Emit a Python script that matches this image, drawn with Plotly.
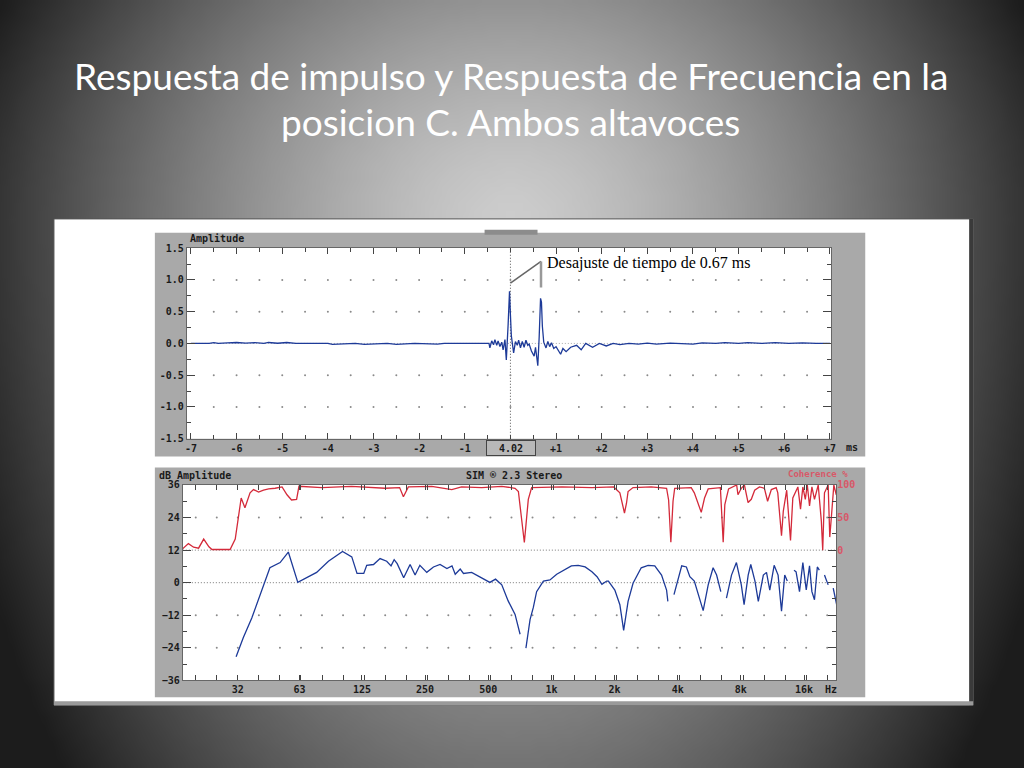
import base64, struct, zlib
import numpy as np
import plotly.graph_objects as go

W, H = 1024, 768
S = 1.006  # small compensation for the capture scale
def px(X): return X * S / W
def py(Y): return 1 - Y * S / H

# ---------------- data ----------------
title_line1 = "Respuesta de impulso y Respuesta de Frecuencia en la"
title_line2 = "posicion C. Ambos altavoces"

# impulse response (time in ms, amplitude)
imp_t = [-7.0, -6.6, -6.5, -6.4, -6.2, -6.0, -5.8, -5.6, -5.4, -5.3, -5.1, -4.9, -4.7, -4.0,
         -3.9, -3.7, -3.4, -3.2, -2.9, -2.7, -2.5, -2.3, -2.1, -1.6, -1.45, -0.47,
         -0.45, -0.41, -0.37, -0.34, -0.30, -0.27, -0.23, -0.19, -0.16, -0.12, -0.09, -0.05,
         -0.02, 0.0, 0.02, 0.07, 0.11, 0.15, 0.18, 0.22, 0.26, 0.30, 0.34, 0.38, 0.41, 0.46,
         0.52, 0.55, 0.60, 0.63, 0.66, 0.68, 0.70, 0.73, 0.78, 0.82, 0.86, 0.90, 0.95, 1.00,
         1.05, 1.10, 1.15, 1.22, 1.32, 1.45, 1.55, 1.65, 1.80, 1.95, 2.10, 2.25, 2.40, 2.60,
         2.80, 3.0, 3.2, 3.5, 4.0, 4.2, 4.5, 4.7, 5.0, 5.2, 5.5, 5.8, 6.1, 6.4, 6.7, 7.0]
imp_a = [0, 0, 0.012, 0, 0.01, 0.015, 0.005, 0.012, 0.0, 0.015, 0.003, 0.015, 0.0, 0.0,
         -0.015, -0.005, 0, -0.015, -0.01, 0, -0.015, -0.01, 0, -0.012, 0, 0,
         -0.07, 0.04, -0.02, 0.06, -0.03, 0.04, -0.05, 0.02, -0.10, 0.06, -0.26, 0.30,
         0.82, 0.45, 0.12, -0.15, 0.03, -0.03, 0.05, -0.07, 0.03, -0.06, 0.05, -0.03, -0.01, -0.12,
         -0.20, -0.06, -0.35, 0.10, 0.71, 0.65, 0.27, 0.02, -0.07, 0.03, -0.05, 0.01, -0.08, -0.05,
         -0.12, -0.17, -0.08, -0.13, -0.06, -0.03, -0.10, 0.0, -0.06, 0.0, -0.04, 0.0, -0.02, 0.0,
         -0.01, 0.005, -0.01, 0.005, -0.01, 0.01, 0.0, 0.012, 0.0, 0.012, 0, 0.012, 0, 0.01, 0, 0]

# frequency response magnitude (Hz, dB); None = gap in the trace
mag_f = [31.4, 34.0, 37.3, 40.4, 42.8, 45.5, 50.9, 55.7, 61.8, 66.8, 76, 86.5, 101, 111.8,
         118.4, 127.5, 131.7, 141.9, 152.5, 164, 172, 178, 184, 197.6, 212, 224, 236, 254.6,
         274, 294.6, 317.6, 335.8, 348, 367.6, 381, 416.6, 456, 509, 541.6, 580, 622, 671, 709,
         None,
         756, 770, 791, 820, 850, 916, 984, 1060, 1140, 1245, 1342, 1448, 1560, 1650, 1741,
         1835, 1870, 2006, 2120, 2210, 2320, 2450, 2680, 2890, 3110, 3350, 3540, 3590,
         None,
         3840, 4180, 4400, 4570, 4800, 5290, 5590, 5900, 6130, 6420,
         None,
         6830, 7220, 7620, 8040, 8290, 8670, 8920, 9340, 9690, 10240, 10600, 10990, 11530,
         12040, 12500, 12950, 13320,
         None,
         14340, 14670, 15230, 15800, 16400, 17000, 17450, 17950, 18520, 18930,
         None,
         20030, 20860,
         None,
         22050, 22400, 22900]
mag_db = [-27.3, -20.2, -13.0, -5.7, -0.2, 5.5, 7.4, 11.3, 0.1, 1.6, 3.8, 7.9, 11.5, 9.5,
          3.4, 3.4, 6.4, 6.7, 8.9, 7.9, 6.2, 8.5, 7.0, 1.8, 6.7, 2.8, 6.4, 3.8,
          5.8, 6.7, 5.2, 6.2, 3.1, 5.0, 3.4, 3.8, 2.2, 0.1, 1.3, -0.8, -6.7, -11.7, -19.0,
          None,
          -24.1, -20.2, -13.6, -9.1, -3.3, 0.6, 1.0, 3.1, 4.6, 6.2, 6.4, 5.8, 4.0, 2.2, -0.6,
          0.6, 0.6, -2.7, -8.1, -17.6, -6.9, -0.2, 5.5, 6.4, 6.2, 2.8, -2.7, -6.9,
          None,
          -4.4, 6.2, 5.8, 2.2, 0.6, -10.3, -0.8, 5.5, 2.8, -3.3,
          None,
          -5.7, 2.8, 7.4, -0.8, -8.1, 2.8, 6.7, 0.6, -6.9, 2.8, 3.8, -2.7, 6.4,
          2.8, -10.5, 2.8, 0.6,
          None,
          4.6, 4.0, -3.3, 7.4, -2.7, 6.2, -3.3, -6.3, 5.8, 4.6,
          None,
          2.8, -0.8,
          None,
          -2.0, -5.0, -8.1]

# coherence (Hz, %)
coh_f = [17.3, 18.6, 19.7, 20.8, 22.0, 23.3, 24.1, 29.4, 31.1, 32.2, 33.2, 34.6, 36.6, 38.0,
         40.2, 42.4, 44.9, 48.2, 52.0, 54.9, 57.7, 61.0, 62.6, 80.4, 111.5, 161, 189, 197, 208,
         269, 335, 373, 465, 580, 671, 696, 727, 743, 757, 776, 805, 1123, 1557, 1980, 2120,
         2160, 2230, 2280, 2320, 2450, 2990, 3540, 3620, 3710, 3800, 3870, 4640, 4800, 5000,
         5180, 5370, 5590, 6390, 6520, 6590, 6710, 6990, 7640, 7750, 8040, 8320, 8660, 8970,
         9310, 9810, 10360, 10730, 11180, 11790, 12000, 12500, 12750, 13230, 13800, 14150,
         14960, 15400, 15800, 16230, 16590, 17000, 17450, 17950, 18700, 19350, 19650, 20030,
         20860, 21230, 21600, 22200, 22800]
coh_pct = [1, 10, 4.5, 3, 17, 5, 1, 1, 17, 47.5, 80, 65, 88, 93,
           89, 92, 94, 95, 97, 85, 77, 78, 98, 96, 98, 95, 96, 82, 97,
           98, 93, 97, 96, 98, 95, 90, 42, 11.7, 40, 78, 96, 97, 96, 97, 88,
           77, 57, 72, 90, 96, 97, 95, 77, 12, 75, 95, 96, 88, 72,
           58, 80, 94, 96, 52, 12, 70, 94, 100, 85, 95, 100, 73, 78,
           92, 97, 95, 75, 93, 96, 88, 22, 60, 92, 15, 80,
           97, 63, 97, 78, 100, 68, 97, 78, 100, 45, 0, 88,
           100, 20, 50, 100, 85]

imp_xticks = [-7, -6, -5, -4, -3, -2, -1, 1, 2, 3, 4, 5, 6, 7]
imp_xlabels = ["-7", "-6", "-5", "-4", "-3", "-2", "-1", "+1", "+2", "+3", "+4", "+5", "+6", "+7"]
imp_yticks = [-1.5, -1.0, -0.5, 0.0, 0.5, 1.0, 1.5]
imp_ylabels = ["-1.5", "-1.0", "-0.5", "0.0", "0.5", "1.0", "1.5"]
freq_xticks = [32, 63, 125, 250, 500, 1000, 2000, 4000, 8000, 16000]
freq_xlabels = ["32", "63", "125", "250", "500", "1k", "2k", "4k", "8k", "16k"]
db_yticks = [-36, -24, -12, 0, 12, 24, 36]
coh_ticks = [0, 50, 100]

# ---------------- background gradient image ----------------
gw, gh = 128, 96
xs = (np.arange(gw) + 0.5) * W / gw
ys = (np.arange(gh) + 0.5) * H / gh
XX, YY = np.meshgrid(xs, ys)
cx, cy = 512, 220
ry = np.where(YY < cy, 480.0, 880.0)
r = np.sqrt(((XX - cx) / 560.0) ** 2 + ((YY - cy) / ry) ** 2)
bright = np.clip(205 - 175 * r ** 1.4, 28, 255).astype(np.uint8)
raw = b"".join(b"\x00" + row.tobytes() for row in bright)

def chunk(tag, data):
    return struct.pack(">I", len(data)) + tag + data + struct.pack(">I", zlib.crc32(tag + data) & 0xffffffff)

png = (b"\x89PNG\r\n\x1a\n" + chunk(b"IHDR", struct.pack(">IIBBBBB", gw, gh, 8, 0, 0, 0, 0))
       + chunk(b"IDAT", zlib.compress(raw)) + chunk(b"IEND", b""))
bg_uri = "data:image/png;base64," + base64.b64encode(png).decode()

# ---------------- figure ----------------
BLUE = "#1d3a98"
RED = "#d42a3a"
MONO = dict(family="DejaVu Sans Mono", size=10, color="#1a1a1a", weight="bold")

fig = go.Figure()

# grid dots (top)
gx = np.arange(-6.5, 7.0, 0.5)
gy = np.array([-1.0, -0.5, 0.5, 1.0])
GX, GY = np.meshgrid(gx, gy)
fig.add_trace(go.Scatter(x=GX.ravel(), y=GY.ravel(), mode="markers",
                         marker=dict(size=2, color="#8a8a8a"), xaxis="x", yaxis="y",
                         hoverinfo="skip", showlegend=False))
# grid dots (bottom)
fx = 32 * 2.0 ** (np.arange(-2, 29) / 3.0)
fy = np.array([24, -12, -24])
FX, FY = np.meshgrid(fx, fy)
fig.add_trace(go.Scatter(x=FX.ravel(), y=FY.ravel(), mode="markers",
                         marker=dict(size=2, color="#8a8a8a"), xaxis="x2", yaxis="y2",
                         hoverinfo="skip", showlegend=False))

fig.add_trace(go.Scatter(x=imp_t, y=imp_a, mode="lines", line=dict(color=BLUE, width=1.3),
                         xaxis="x", yaxis="y", showlegend=False, name="Impulse"))
fig.add_trace(go.Scatter(x=coh_f, y=coh_pct, mode="lines", line=dict(color=RED, width=1.3),
                         xaxis="x2", yaxis="y3", showlegend=False, name="Coherence"))
fig.add_trace(go.Scatter(x=mag_f, y=mag_db, mode="lines", line=dict(color=BLUE, width=1.3),
                         xaxis="x2", yaxis="y2", showlegend=False, connectgaps=False, name="Magnitude"))

def rect(x0, y0, x1, y1, fill, line=None, lw=0):
    return dict(type="rect", xref="paper", yref="paper", x0=px(x0), x1=px(x1), y0=py(y1), y1=py(y0),
                fillcolor=fill, line=dict(color=line or fill, width=lw), layer="below")

DOT = "1px,2px"
shapes = [
    rect(52, 215, 972, 706, "white", "#555", 1),
    rect(968, 215, 972, 706, "#3a3a3a"),
    rect(52, 702, 972, 706, "#9a9a9a"),
    rect(153, 229, 864, 455, "#a9a9a9"),
    rect(483, 226, 536, 231, "#8c8c8c"),
    rect(153, 466, 864, 698, "#a9a9a9"),
    rect(185, 244.5, 830, 437, "white"),
    rect(181, 483.7, 835, 681, "white"),
    # dotted reference lines
    dict(type="line", xref="x domain", yref="y", x0=0, x1=1, y0=0, y1=0,
         line=dict(color="#aaaaaa", width=1, dash=DOT), layer="below"),
    dict(type="line", xref="x", yref="y domain", x0=0, x1=0, y0=0, y1=1,
         line=dict(color="#555", width=1, dash=DOT), layer="below"),
    dict(type="line", xref="x2 domain", yref="y2", x0=0, x1=1, y0=0, y1=0,
         line=dict(color="#777", width=1, dash=DOT), layer="below"),
    dict(type="line", xref="x2 domain", yref="y2", x0=0, x1=1, y0=12, y1=12,
         line=dict(color="#777", width=1, dash=DOT), layer="below"),
    # annotation leader lines
    dict(type="line", xref="x", yref="y", x0=0.0, y0=0.95, x1=0.67, y1=1.29,
         line=dict(color="#666", width=1.5), layer="above"),
    dict(type="line", xref="x", yref="y", x0=0.67, y0=1.29, x1=0.67, y1=0.88,
         line=dict(color="#999", width=2.5), layer="above"),
]

ann = []
ann.append(dict(text=title_line1, x=0.5, y=py(70), xref="paper", yref="paper", showarrow=False,
                font=dict(family="Lato", size=37, color="white"), xanchor="center", yanchor="middle"))
ann.append(dict(text=title_line2, x=0.5, y=py(117), xref="paper", yref="paper", showarrow=False,
                font=dict(family="Lato", size=37, color="white"), xanchor="center", yanchor="middle"))
ann.append(dict(text="Amplitude", x=px(186), y=py(235), xref="paper", yref="paper", showarrow=False,
                font=MONO, xanchor="left", yanchor="middle"))
ann.append(dict(text="dB Amplitude", x=px(155), y=py(474), xref="paper", yref="paper", showarrow=False,
                font=MONO, xanchor="left", yanchor="middle"))
ann.append(dict(text="SIM \u00ae 2.3 Stereo", x=px(512), y=py(474), xref="paper", yref="paper",
                showarrow=False, font=MONO, xanchor="center", yanchor="middle"))
ann.append(dict(text="Coherence %", x=px(849), y=py(473), xref="paper", yref="paper", showarrow=False,
                font=dict(family="DejaVu Sans Mono", size=9, color="#d85868", weight="bold"),
                xanchor="right", yanchor="middle"))
ann.append(dict(text="ms", x=px(843), y=py(446), xref="paper", yref="paper", showarrow=False,
                font=MONO, xanchor="left", yanchor="middle"))
ann.append(dict(text="Hz", x=px(830), y=py(690), xref="paper", yref="paper", showarrow=False,
                font=MONO, xanchor="center", yanchor="middle"))
ann.append(dict(text="4.02", x=px(509), y=py(446.5), xref="paper", yref="paper", showarrow=False,
                font=MONO, xanchor="center", yanchor="middle", bgcolor="#b8b8b8",
                bordercolor="#444", borderwidth=1, width=46, height=12))
ann.append(dict(text="Desajuste de tiempo de 0.67 ms", x=px(543), y=py(260), xref="paper",
                yref="paper", showarrow=False,
                font=dict(family="Liberation Serif", size=16, color="black"),
                xanchor="left", yanchor="middle"))

axis_common = dict(showgrid=False, zeroline=False, showline=True, linecolor="#666", linewidth=1,
                   mirror="ticks", ticks="inside", tickcolor="#444", tickfont=MONO)

minor_freq = list(32 * 2.0 ** (np.arange(-2, 29) / 3.0))

fig.update_layout(
    width=W, height=H, margin=dict(l=0, r=0, t=0, b=0),
    paper_bgcolor="#5a5a5a", plot_bgcolor="rgba(0,0,0,0)",
    showlegend=False,
    images=[dict(source=bg_uri, xref="paper", yref="paper", x=-0.01, y=1.01, sizex=1.02, sizey=1.02,
                 sizing="stretch", xanchor="left", yanchor="top", layer="below")],
    shapes=shapes, annotations=ann,
    xaxis=dict(domain=[px(185), px(830)], range=[-7.09, 7.03], tickvals=imp_xticks,
               ticktext=imp_xlabels, ticklen=6,
               minor=dict(ticks="inside", dtick=0.5, ticklen=4, tickcolor="#444"),
               anchor="y", **axis_common),
    yaxis=dict(domain=[py(437), py(244.5)], range=[-1.5, 1.5], tickvals=imp_yticks,
               ticktext=imp_ylabels, ticklen=8,
               minor=dict(ticks="inside", dtick=0.25, ticklen=4, tickcolor="#444"),
               anchor="x", **axis_common),
    xaxis2=dict(domain=[px(181), px(835)], type="log", range=[np.log10(17.5), np.log10(22800)],
                tickvals=freq_xticks, ticktext=freq_xlabels, ticklen=5,
                minor=dict(ticks="inside", tickvals=minor_freq, ticklen=5, tickcolor="#444"),
                anchor="y2", **axis_common),
    yaxis2=dict(domain=[py(681), py(483.7)], range=[-36, 36], tickvals=db_yticks, ticklen=8,
                minor=dict(ticks="inside", dtick=6, ticklen=4, tickcolor="#444"),
                anchor="x2", **axis_common),
    yaxis3=dict(overlaying="y2", side="right", range=[-200, 100], tickvals=coh_ticks,
                ticks="", showgrid=False, zeroline=False, showline=False, anchor="x2",
                tickfont=dict(family="DejaVu Sans Mono", size=10, color="#d85868", weight="bold")),
)

post = ("var d=document.getElementById('{plot_id}');var w=d.parentElement;"
        "w.style.position='fixed';w.style.left='0px';w.style.top='0px';"
        "document.body.style.margin='0px';document.body.style.overflow='hidden';"
        "document.documentElement.style.overflow='hidden';")
fig.write_html("out.html", config={"displayModeBar": False}, post_script=post)
